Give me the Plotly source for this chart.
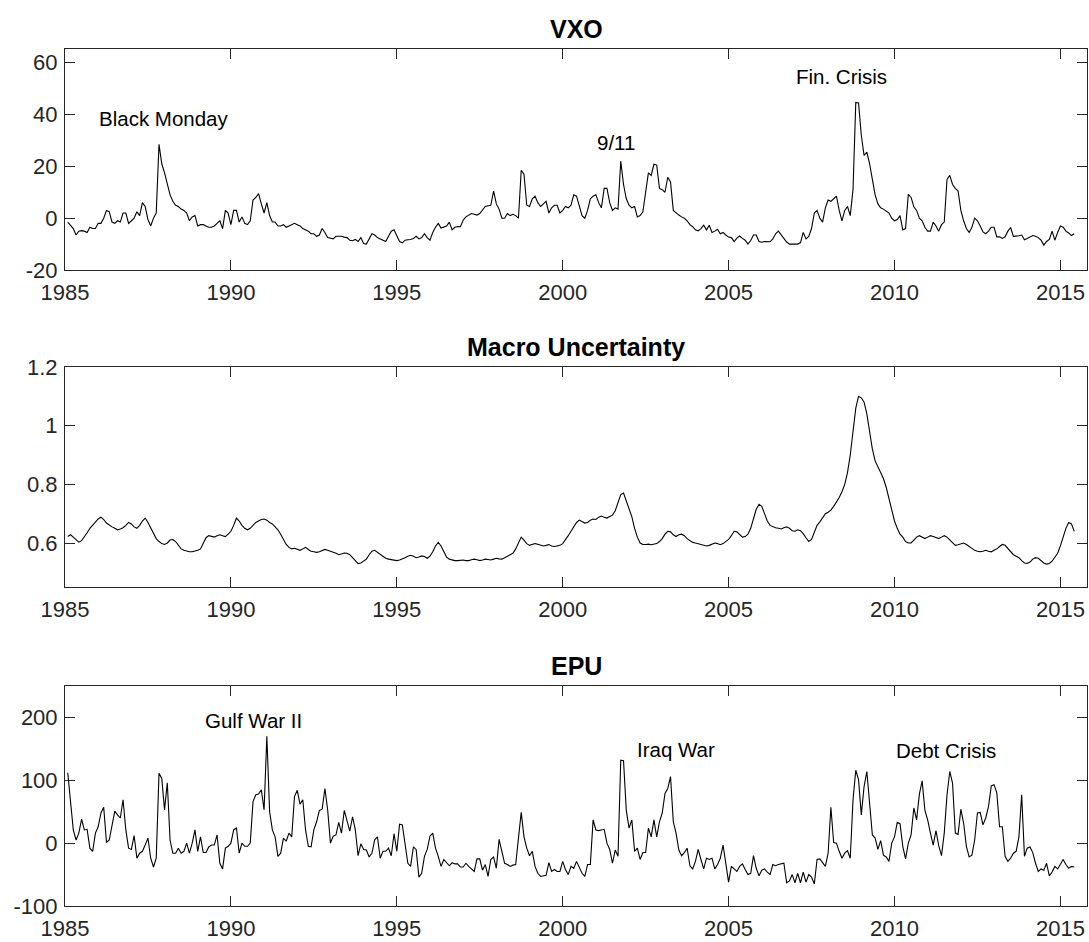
import plotly.graph_objects as go

# ---------------- data (monthly, starting Feb 1985) ----------------
START_YEAR = 1985
START_MONTH_INDEX = 1  # first observation = 1985 + 1/12

vxo = [
    -1.5, -3, -4, -6.5, -5, -4.8, -5, -5.5, -3.5, -4, -4,
    -2, -2, 0, 3, 2.5, -1.5, -2, -1, -1.5, 2, 2, -2,
    -1, 0, 2.5, 1, 6, 4.5, -0.5, -3, 0, 2, 28.5, 21,
    17.5, 13, 9, 6.5, 5, 4.5, 3.5, 3, 2, -1, 0.5, 1,
    -3, -2.5, -2.5, -3, -3.5, -3.5, -3, -2, -1, -4, 3, 2,
    -2.5, 3, 3, -1.5, 0.5, -2, -2.5, -1, 7, 8, 9.5, 5.5,
    2, 6, 1, -1.5, -1.5, -3, -3, -2.5, -3.5, -3, -2.5, -2,
    -2.5, -3, -4, -4.5, -5, -6, -6, -7, -6.5, -4, -5.5, -7.5,
    -7.8, -8, -7, -7, -7, -7.3, -7.5, -8.5, -8.7, -8.2, -9, -7.5,
    -9.8, -10, -8, -6, -6.5, -7.5, -8, -8.5, -9, -7, -5, -4.5,
    -7, -9, -9.5, -8.5, -8.3, -8.2, -7.8, -7, -8, -7.5, -6, -7.5,
    -8.5, -5.5, -3.5, -2, -3.8, -3.5, -3, -1.5, -4.5, -3.5, -3.2, -3.3,
    -0.8, 0.5, 1.2, 1.8, 1.5, 1.2, 1.8, 3, 4.5, 4.8, 5, 10.5,
    5.5, 3.5, 0, 0, 1.8, 1, 1.5, 1, 0, 18.5, 17, 5,
    4.5, 7.5, 8.5, 6, 4.5, 5.5, 6.5, 2, 4, 5, 5, 2,
    3, 4.5, 4, 5, 9, 8.5, 5, 1, 0, 3, 7.5, 8.5,
    9, 6, 4, 11.5, 11.5, 6, 3, 4, 3.5, 22, 13, 7.5,
    5, 4, 4.5, 0.5, 1, 2.5, 10, 17.5, 16.5, 20.8, 20.5, 11.5,
    11, 10, 15.8, 14, 3, 2, 1.2, 0.5, 0, -1, -2.5, -3.3,
    -4.5, -4.9, -4, -2.7, -4.5, -2.7, -5.5, -5, -4.3, -6, -5.5, -6.5,
    -7.3, -7.5, -9, -7.7, -6.9, -7.8, -8.5, -10, -8.6, -6.5, -6.5, -9,
    -9.3, -9, -9, -9.1, -8, -6, -5, -6.5, -8, -9.2, -10, -10,
    -10, -10, -9.4, -5.5, -8, -7, -4, 2, 3, 0, -1.5, 4,
    7, 6.5, 7.5, 8.5, 3, -1, 3, 4.5, 1, 11, 44.7, 44.5,
    32, 24.2, 25.5, 21, 15, 9, 5.5, 4, 3.5, 2.8, 2, 0,
    -1, -0.5, 1, -4.5, -4, 9.2, 8, 4.4, 3, 0, -1, -3.5,
    -5, -5, -1.5, -3, -5, -2.5, -1.5, 15, 16.5, 13, 11.5, 10.5,
    3, -1, -4, -5.5, -3.5, 0, -1, -3, -5.3, -6, -5, -3.5,
    -3.5, -7.2, -7.2, -7.8, -7.2, -5, -3.6, -7, -7, -6.8, -6.5, -8.3,
    -7.8, -7.2, -6.7, -7, -7.5, -8.5, -10.4, -9, -8.2, -5, -8.5, -5.5,
    -3, -3.5, -5, -5.7, -6.7, -6,
]

macro = [
    0.622, 0.628, 0.620, 0.610, 0.603, 0.608, 0.620, 0.635, 0.650, 0.662, 0.672,
    0.682, 0.688, 0.680, 0.668, 0.660, 0.655, 0.650, 0.645, 0.648, 0.652, 0.660, 0.670,
    0.665, 0.655, 0.650, 0.660, 0.675, 0.685, 0.670, 0.650, 0.630, 0.615, 0.605, 0.598,
    0.595, 0.600, 0.610, 0.612, 0.605, 0.592, 0.580, 0.575, 0.572, 0.570, 0.570, 0.572,
    0.575, 0.580, 0.600, 0.618, 0.625, 0.622, 0.620, 0.625, 0.628, 0.625, 0.622, 0.630,
    0.640, 0.660, 0.685, 0.675, 0.660, 0.650, 0.645, 0.650, 0.660, 0.670, 0.675, 0.680,
    0.682, 0.678, 0.670, 0.665, 0.655, 0.645, 0.630, 0.610, 0.595, 0.585, 0.580, 0.582,
    0.578, 0.575, 0.580, 0.585, 0.578, 0.572, 0.570, 0.568, 0.570, 0.575, 0.578, 0.575,
    0.572, 0.568, 0.565, 0.560, 0.562, 0.566, 0.565, 0.560, 0.550, 0.538, 0.530, 0.532,
    0.538, 0.545, 0.560, 0.572, 0.575, 0.568, 0.560, 0.553, 0.548, 0.545, 0.543, 0.542,
    0.540, 0.542, 0.545, 0.550, 0.555, 0.558, 0.555, 0.550, 0.552, 0.556, 0.554, 0.548,
    0.555, 0.570, 0.590, 0.602, 0.590, 0.568, 0.552, 0.545, 0.542, 0.540, 0.540, 0.541,
    0.542, 0.540, 0.540, 0.543, 0.545, 0.543, 0.540, 0.542, 0.545, 0.544, 0.542, 0.545,
    0.548, 0.546, 0.545, 0.550, 0.556, 0.560, 0.565, 0.580, 0.600, 0.620, 0.610, 0.598,
    0.592, 0.595, 0.598, 0.596, 0.592, 0.590, 0.592, 0.595, 0.590, 0.588, 0.590, 0.592,
    0.598, 0.610, 0.625, 0.640, 0.655, 0.670, 0.678, 0.672, 0.668, 0.670, 0.678, 0.682,
    0.680, 0.688, 0.692, 0.688, 0.685, 0.690, 0.695, 0.710, 0.740, 0.765, 0.770, 0.745,
    0.720, 0.690, 0.650, 0.620, 0.600, 0.595, 0.595, 0.596, 0.594, 0.595, 0.598, 0.605,
    0.615, 0.630, 0.640, 0.638, 0.628, 0.622, 0.628, 0.630, 0.625, 0.615, 0.608, 0.602,
    0.600, 0.598, 0.595, 0.592, 0.590, 0.592, 0.595, 0.600, 0.598, 0.594, 0.598, 0.605,
    0.612, 0.625, 0.640, 0.638, 0.628, 0.620, 0.622, 0.630, 0.650, 0.680, 0.715, 0.732,
    0.725, 0.700, 0.675, 0.660, 0.655, 0.652, 0.650, 0.648, 0.652, 0.655, 0.650, 0.642,
    0.640, 0.645, 0.642, 0.632, 0.618, 0.605, 0.612, 0.640, 0.660, 0.672, 0.685, 0.700,
    0.705, 0.712, 0.725, 0.740, 0.755, 0.775, 0.800, 0.840, 0.900, 0.980, 1.060, 1.100,
    1.095, 1.080, 1.040, 0.980, 0.920, 0.880, 0.860, 0.840, 0.820, 0.790, 0.750, 0.710,
    0.675, 0.650, 0.630, 0.620, 0.605, 0.600, 0.600, 0.610, 0.620, 0.625, 0.620, 0.615,
    0.620, 0.625, 0.622, 0.618, 0.615, 0.620, 0.625, 0.620, 0.610, 0.600, 0.592, 0.594,
    0.598, 0.600, 0.595, 0.588, 0.580, 0.575, 0.572, 0.570, 0.572, 0.575, 0.572, 0.570,
    0.575, 0.580, 0.588, 0.595, 0.592, 0.580, 0.568, 0.560, 0.555, 0.550, 0.540, 0.532,
    0.530, 0.535, 0.545, 0.550, 0.548, 0.540, 0.532, 0.528, 0.530, 0.538, 0.550, 0.565,
    0.590, 0.620, 0.650, 0.670, 0.665, 0.640,
]

epu = [
    112, 69, 21, 5, 16, 38, 21, 22, -8, -13, 16,
    26, 48, 57, 1, 5, 26, 51, 45, 40, 69, 21, -8,
    -10, 12, -24, -16, -13, -3, 8, -24, -38, -24, 111, 103,
    53, 96, 5, -16, -16, -8, -16, -13, 0, -16, 0, 21,
    -13, 10, -15, -15, -6, -3, -3, 13, -32, -41, -8, -5,
    0, 21, 24, -16, 0, -5, -5, 0, 66, 77, 78, 85,
    53, 170, 50, 21, 10, -21, -16, 8, 3, 16, 10, 74,
    84, 62, 69, 21, -5, -6, 21, 34, 52, 54, 87, 53,
    0, 11, 13, 33, 16, 52, 33, 19, 42, 21, -20, -1,
    -10, -11, -22, -16, 5, 10, -24, -13, -13, -8, -20, 15,
    -13, 30, 29, -5, -32, -37, -6, -10, -54, -48, -21, -10,
    11, 16, -8, -21, -37, -26, -32, -36, -31, -33, -33, -38,
    -38, -32, -37, -41, -45, -25, -25, -43, -34, -53, -26, -22,
    -40, 6, -15, -32, -34, -37, -35, -34, 8, 49, 10, -8,
    -20, -13, -37, -48, -53, -52, -51, -31, -45, -42, -45, -45,
    -29, -42, -50, -37, -40, -29, -40, -48, -53, -34, -34, 37,
    21, 20, 21, 22, 0, -10, -32, -11, -21, 132, 131, 52,
    24, 37, -13, -8, -26, -15, -15, 24, 10, 37, 10, 34,
    48, 79, 87, 106, 34, 16, -11, -20, -15, -8, -36, -41,
    -29, -10, -26, -41, -24, -26, -24, -41, -34, -24, -3, -30,
    -62, -37, -41, -45, -37, -33, -42, -50, -48, -20, -40, -52,
    -43, -41, -46, -50, -34, -36, -34, -33, -32, -63, -60, -50,
    -63, -48, -63, -46, -62, -50, -54, -65, -26, -25, -32, -37,
    -16, 57, 1, 0, -13, -24, -16, -12, -24, 69, 116, 101,
    45, 90, 114, 69, 13, 8, -10, 4, -19, -22, -29, 0,
    10, 33, 31, -5, -25, 0, 13, 56, 37, 78, 99, 52,
    37, 16, -3, 20, -4, -20, 16, 77, 114, 95, 16, 14,
    54, 32, -5, -22, -19, 5, 48, 49, 29, 40, 58, 91,
    93, 80, 26, 26, -21, -29, -24, -16, -13, 10, 77, -21,
    -8, -6, -15, -32, -45, -41, -43, -32, -52, -46, -37, -41,
    -34, -26, -34, -40, -37, -38,
]

titles = ["VXO", "Macro Uncertainty", "EPU"]
x_tick_vals = [1985, 1990, 1995, 2000, 2005, 2010, 2015]
x_tick_text = ["1985", "1990", "1995", "2000", "2005", "2010", "2015"]
y_ranges = [[-20, 65.3], [0.45, 1.2], [-100, 250]]
y_tick_vals = [[-20, 0, 20, 40, 60], [0.6, 0.8, 1.0, 1.2], [-100, 0, 100, 200]]
y_tick_text = [["-20", "0", "20", "40", "60"], ["0.6", "0.8", "1", "1.2"],
               ["-100", "0", "100", "200"]]

events = [  # (panel, label, x, y)
    (0, "Black Monday", 1987.97, 38.4),
    (0, "9/11", 2001.6, 29.3),
    (0, "Fin. Crisis", 2008.39, 54.8),
    (2, "Gulf War II", 1990.68, 195.6),
    (2, "Iraq War", 2003.42, 149),
    (2, "Debt Crisis", 2011.55, 148),
]

# ---------------- layout geometry ----------------
W, H = 1089, 942
X_LEFT_PX, X_RIGHT_PX = 65.3, 1087
X_RANGE = [1985, 1985 + (X_RIGHT_PX - X_LEFT_PX) / 33.17]
PANELS_PX = [(49, 270), (367, 587), (686, 906)]  # (top, bottom)
TOP_PX, BOT_PX = PANELS_PX[0][0], PANELS_PX[-1][1]
PLOT_H = BOT_PX - TOP_PX

FONT = "Liberation Sans, Arial, Helvetica, sans-serif"
AX_COLOR = "#262626"

n = len(vxo)
dates = [START_YEAR + (START_MONTH_INDEX + k) / 12 for k in range(n)]
series = [vxo, macro, epu]

fig = go.Figure()
for p, vals in enumerate(series):
    sfx = "" if p == 0 else str(p + 1)
    fig.add_trace(go.Scatter(
        x=dates, y=vals, mode="lines",
        line=dict(color="black", width=1.1),
        xaxis="x" + sfx, yaxis="y" + sfx, showlegend=False,
        hoverinfo="skip",
    ))

layout = dict(
    width=W, height=H,
    margin=dict(l=X_LEFT_PX, r=W - X_RIGHT_PX, t=TOP_PX, b=H - BOT_PX, pad=0,
                autoexpand=False),
    paper_bgcolor="white", plot_bgcolor="white",
    showlegend=False,
)
annotations = []
for p in range(3):
    top, bot = PANELS_PX[p]
    sfx = "" if p == 0 else str(p + 1)
    layout["xaxis" + sfx] = dict(
        domain=[0, 1],
        range=X_RANGE,
        anchor="y" + sfx,
        tickvals=x_tick_vals, ticktext=x_tick_text,
        ticks="inside", ticklen=10, tickwidth=1, tickcolor=AX_COLOR,
        showline=True, linecolor=AX_COLOR, linewidth=1, mirror="ticks",
        showgrid=False, zeroline=False, automargin=False,
        tickfont=dict(family=FONT, size=22, color=AX_COLOR),
        ticklabelstandoff=3,
    )
    layout["yaxis" + sfx] = dict(
        domain=[(BOT_PX - bot) / PLOT_H, (BOT_PX - top) / PLOT_H],
        range=y_ranges[p],
        anchor="x" + sfx,
        tickvals=y_tick_vals[p], ticktext=y_tick_text[p],
        ticks="inside", ticklen=10, tickwidth=1, tickcolor=AX_COLOR,
        showline=True, linecolor=AX_COLOR, linewidth=1, mirror="ticks",
        showgrid=False, zeroline=False, automargin=False,
        tickfont=dict(family=FONT, size=22, color=AX_COLOR),
        ticklabelstandoff=2,
    )
    annotations.append(dict(
        text="<b>%s</b>" % titles[p], xref="paper", yref="paper",
        x=0.5, y=(BOT_PX - (top - 20)) / PLOT_H,
        xanchor="center", yanchor="middle", showarrow=False,
        font=dict(family=FONT, size=25, color="black"),
    ))

for p, label, ex, ey in events:
    sfx = "" if p == 0 else str(p + 1)
    annotations.append(dict(
        text=label, xref="x" + sfx, yref="y" + sfx, x=ex, y=ey,
        xanchor="center", yanchor="middle", showarrow=False,
        font=dict(family=FONT, size=20.5, color="black"),
    ))

layout["annotations"] = annotations
fig.update_layout(**layout)
fig.write_html("out.html")
